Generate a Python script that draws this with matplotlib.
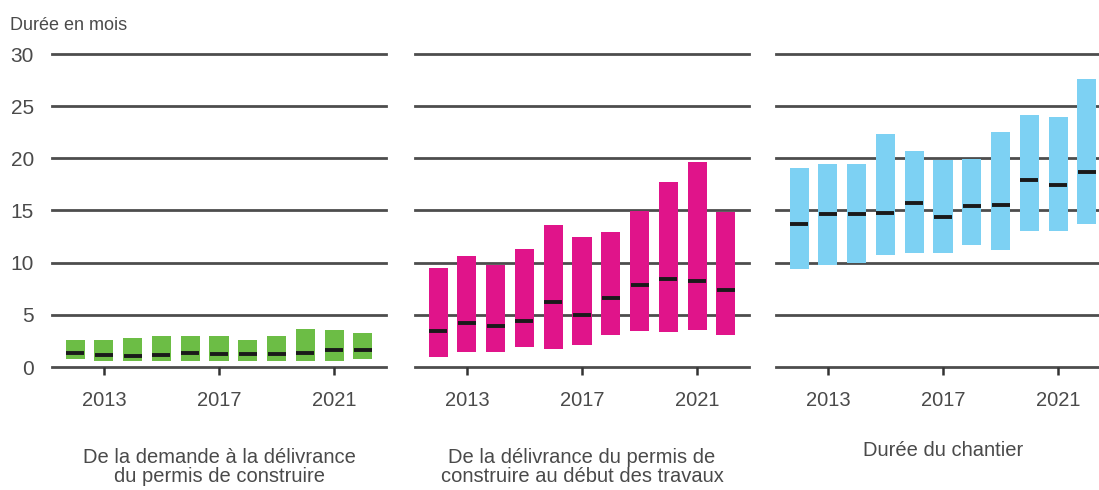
import matplotlib.pyplot as plt

plt.rcParams['font.family'] = ['Liberation Sans', 'DejaVu Sans']

years = [2012, 2013, 2014, 2015, 2016, 2017, 2018, 2019, 2020, 2021, 2022]

# panel 1 : demande -> delivrance du permis
p1_low = [0.8, 0.57, 0.57, 0.57, 0.57, 0.57, 0.57, 0.57, 0.57, 0.57, 0.8]
p1_med = [1.3, 1.14, 1.05, 1.15, 1.37, 1.2, 1.2, 1.2, 1.37, 1.6, 1.6]
p1_high = [2.57, 2.57, 2.8, 3.0, 3.0, 3.0, 2.57, 3.0, 3.67, 3.5, 3.27]

# panel 2 : delivrance -> debut des travaux
p2_low = [0.98, 1.46, 1.46, 1.93, 1.68, 2.15, 3.1, 3.48, 3.32, 3.54, 3.07]
p2_med = [3.45, 4.2, 3.9, 4.37, 6.27, 5.03, 6.6, 7.9, 8.48, 8.23, 7.4]
p2_high = [9.5, 10.63, 9.75, 11.33, 13.6, 12.47, 12.94, 14.97, 17.75, 19.65, 14.87]

# panel 3 : duree du chantier
p3_low = [9.35, 9.82, 9.98, 10.75, 10.97, 10.97, 11.68, 11.2, 13.05, 13.05, 13.75]
p3_med = [13.66, 14.71, 14.68, 14.74, 15.73, 14.42, 15.4, 15.57, 17.94, 17.46, 18.67]
p3_high = [19.06, 19.5, 19.5, 22.3, 20.69, 19.82, 19.98, 22.54, 24.17, 23.95, 27.65]

titles = ['De la demande à la délivrance\ndu permis de construire',
          'De la délivrance du permis de\nconstruire au début des travaux',
          'Durée du chantier']
colors = ['#6cbd45', '#e0148a', '#7dd1f3']
xticks = [2013, 2017, 2021]
yticks = [0, 5, 10, 15, 20, 25, 30]

W, H = 1099, 490
fig = plt.figure(figsize=(W / 100, H / 100), dpi=100)

panels = [(p1_low, p1_med, p1_high), (p2_low, p2_med, p2_high), (p3_low, p3_med, p3_high)]
lefts = [52, 415, 776]
txt_col = '#4a4a4a'
grid_col = '#4d4d4d'

for i, (low, med, high) in enumerate(panels):
    ax = fig.add_axes([lefts[i] / W, (H - 367) / H, 334 / W, 313 / H])
    for y in yticks:
        ax.axhline(y, color=grid_col, lw=2.0, zorder=1, clip_on=False)
    heights = [h - l for l, h in zip(low, high)]
    ax.bar(years, heights, bottom=low, width=0.66, color=colors[i], zorder=2)
    ax.hlines(med, [x - 0.31 for x in years], [x + 0.31 for x in years],
              color='#1a1a1a', lw=2.8, zorder=3)
    ax.set_xlim(2011.2, 2022.8)
    ax.set_ylim(0, 30)
    for s in ax.spines.values():
        s.set_visible(False)
    ax.set_xticks(xticks)
    ax.set_xticklabels([str(x) for x in xticks])
    ax.tick_params(axis='x', length=6, width=1.8, color='#333333', pad=11,
                   labelsize=14.5, labelcolor=txt_col)
    ax.set_yticks(yticks)
    if i == 0:
        ax.tick_params(axis='y', length=0, pad=13, labelsize=15, labelcolor=txt_col)
    else:
        ax.tick_params(axis='y', length=0, labelleft=False)
    cx = (lefts[i] + 167) / W
    if i < 2:
        fig.text(cx, 1 - 467 / H, titles[i], ha='center', va='center',
                 fontsize=14.5, color=txt_col, linespacing=0.95)
    else:
        fig.text(cx, 1 - 450 / H, titles[i], ha='center', va='center',
                 fontsize=14.5, color=txt_col)

fig.text(10 / W, 1 - 25 / H, 'Durée en mois', ha='left', va='center',
         fontsize=13, color=txt_col)

fig.savefig('out.png', dpi=100)
